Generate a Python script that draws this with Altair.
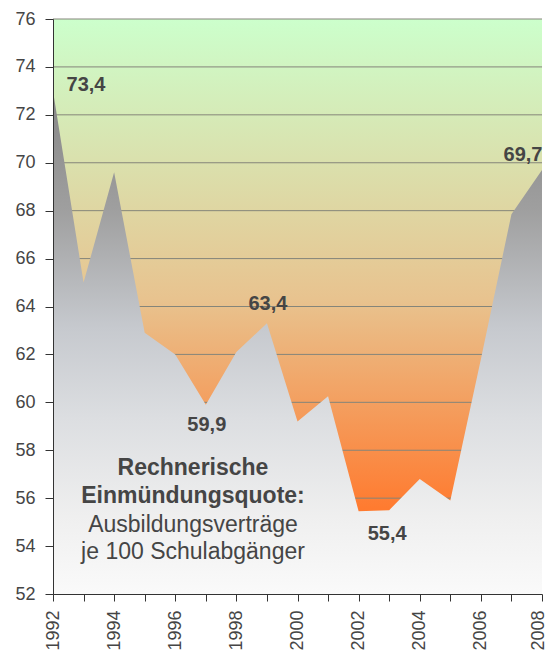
import altair as alt
import pandas as pd

# ---- data ----
years = list(range(1992, 2009))
values = [73.0, 65.0, 69.6, 62.9, 62.0, 59.9, 62.1, 63.3, 59.2, 60.25,
          55.45, 55.5, 56.8, 55.9, 61.8, 67.85, 69.7]
y_ticks = list(range(52, 77, 2))
label_years = [1992, 1997, 1999, 2003, 2008]
label_texts = ["73,4", "59,9", "63,4", "55,4", "69,7"]
note_bold = ["Rechnerische", "Einmündungsquote:"]
note_regular = ["Ausbildungsverträge", "je 100 Schulabgänger"]

FONT = "Liberation Sans"
TXT = "#454545"

df = pd.DataFrame({"year": years, "value": values})
grid_df = pd.DataFrame({"v": y_ticks})
one = pd.DataFrame({"a": [0]})

x_scale = alt.Scale(domain=[1992, 2008], nice=False, zero=False)
y_scale = alt.Scale(domain=[52, 76], nice=False, zero=False)

x_axis = alt.Axis(values=years, format="d", title=None, grid=False,
                  labelExpr="datum.value % 2 == 0 ? datum.label : ''",
                  labelAngle=270, labelFontSize=18, labelFont=FONT,
                  labelColor=TXT, labelPadding=9, tickSize=7,
                  labelOffset={"condition": {"test": "datum.value == 2008",
                                             "value": -4},
                               "value": 0},
                  tickColor="#333333", domainColor="#333333",
                  labelFlush=False, labelOverlap=False, zindex=1)
y_axis = alt.Axis(values=y_ticks, title=None, grid=False,
                  labelFontSize=18, labelFont=FONT, labelColor=TXT,
                  labelPadding=10, tickSize=8, tickColor="#333333",
                  domainColor="#333333", labelFlush=False,
                  labelOverlap=False, zindex=1)

bg_grad = alt.Gradient(
    gradient="linear", x1=0, x2=0, y1=0, y2=1,
    stops=[
        alt.GradientStop(offset=0, color="#ccffcc"),
        alt.GradientStop(offset=0.486, color="#e8c38f"),
        alt.GradientStop(offset=0.85, color="#ff7b30"),
        alt.GradientStop(offset=1, color="#ff7020"),
    ],
)
area_grad = alt.Gradient(
    gradient="linear", x1=0, x2=0, y1=0, y2=1,
    stops=[
        alt.GradientStop(offset=0, color="#868686"),
        alt.GradientStop(offset=0.236, color="#9f9f9f"),
        alt.GradientStop(offset=0.47, color="#c6c9ce"),
        alt.GradientStop(offset=0.65, color="#dcdee1"),
        alt.GradientStop(offset=0.846, color="#efefef"),
        alt.GradientStop(offset=1, color="#fafafa"),
    ],
)

bg = alt.Chart(one).mark_rect(fill=bg_grad).encode(
    x=alt.XDatum(1992, scale=x_scale, axis=x_axis),
    x2=alt.X2Datum(2008),
    y=alt.YDatum(76, scale=y_scale, axis=y_axis),
    y2=alt.Y2Datum(52),
)

grid = alt.Chart(grid_df).mark_rule(color="#85857a", strokeWidth=1).encode(
    y=alt.Y("v:Q", scale=y_scale, axis=y_axis),
)

area = alt.Chart(df).mark_area(fill=area_grad, interpolate="linear").encode(
    x=alt.X("year:Q", scale=x_scale, axis=x_axis),
    y=alt.Y("value:Q", scale=y_scale, axis=y_axis),
    y2=alt.Y2Datum(52),
)

lab_df = pd.DataFrame({
    "year": label_years,
    "text": label_texts,
    "value": [values[years.index(y)] for y in label_years],
})
offsets = [(33, -6), (1, 20), (1, -19), (-2, 24), (-19, -15)]
label_layers = []
for i, (dx, dy) in enumerate(offsets):
    label_layers.append(
        alt.Chart(lab_df.iloc[[i]]).mark_text(
            font=FONT, fontSize=20, fontWeight="bold", color=TXT,
            align="center", baseline="middle", dx=dx, dy=dy,
        ).encode(
            x=alt.X("year:Q", scale=x_scale, axis=x_axis),
            y=alt.Y("value:Q", scale=y_scale, axis=y_axis),
            text="text:N",
        )
    )

note1 = alt.Chart(one).mark_text(
    font=FONT, fontSize=23, fontWeight="bold", color=TXT,
    align="center", baseline="middle", lineHeight=28,
).encode(
    x=alt.XDatum(1996.58, scale=x_scale, axis=x_axis),
    y=alt.YDatum(57.24, scale=y_scale, axis=y_axis),
    text=alt.value(note_bold),
)
note2 = alt.Chart(one).mark_text(
    font=FONT, fontSize=23, color=TXT,
    align="center", baseline="middle", lineHeight=27,
).encode(
    x=alt.XDatum(1996.58, scale=x_scale, axis=x_axis),
    y=alt.YDatum(54.9, scale=y_scale, axis=y_axis),
    text=alt.value(note_regular),
)

chart = alt.layer(bg, grid, area, *label_layers, note1, note2).properties(
    width=489, height=575,
    autosize=alt.AutoSizeParams(type="none"),
    padding={"left": 53, "top": 19, "right": 6, "bottom": 61},
    background="white",
).configure_view(stroke=None)

chart.save("out.html", embed_options={"renderer": "svg", "actions": False})
